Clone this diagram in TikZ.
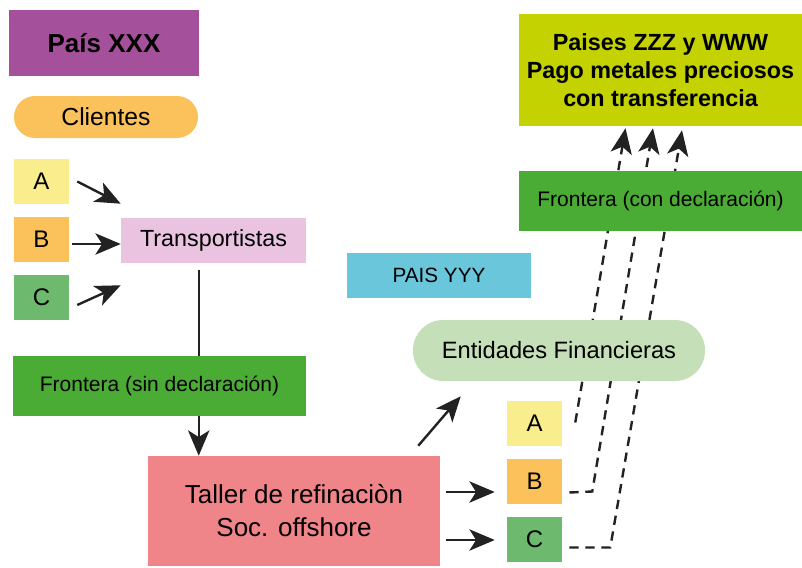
\documentclass[tikz,border=0pt]{standalone}
\usepackage{fontspec}
\setmainfont{Liberation Sans}
\usetikzlibrary{arrows.meta,calc,backgrounds}
\definecolor{paiscol}{RGB}{165,80,155}
\definecolor{orangecol}{RGB}{251,193,90}
\definecolor{yellowcol}{RGB}{249,237,142}
\definecolor{greencol}{RGB}{109,185,110}
\definecolor{pinkcol}{RGB}{233,195,223}
\definecolor{frontcol}{RGB}{74,171,53}
\definecolor{tallercol}{RGB}{239,133,137}
\definecolor{entidcol}{RGB}{197,224,184}
\definecolor{cyancol}{RGB}{106,198,218}
\definecolor{limecol}{RGB}{195,210,0}
\definecolor{linecol}{RGB}{34,34,34}
\begin{document}
\begin{tikzpicture}[x=0.75pt,y=-0.75pt,
  box/.style={inner sep=0pt,align=center,text=black},
  letter/.style={box,minimum width=41.25pt,minimum height=33.75pt,font=\fontsize{18}{21}\selectfont},
  frontera/.style={box,fill=frontcol,font=\fontsize{15.75}{18}\selectfont},
  con/.style={draw=linecol,line width=1.8pt},
  arr/.style={con,-{Stealth[length=19pt,width=16pt,inset=5pt]}},
  dsh/.style={arr,dash pattern=on 7pt off 5pt}]
\useasboundingbox (0,0) rectangle (802,567);

\node[box,fill=paiscol,minimum width=142.5pt,minimum height=49.5pt,font=\fontsize{19.5}{24}\selectfont\bfseries] (pais) at (104,43) {País XXX};
\node[box,fill=orangecol,rounded corners=15.75pt,minimum width=138pt,minimum height=31.5pt,font=\fontsize{18.5}{22}\selectfont] (clientes) at (106,117) {Clientes};
\node[letter,fill=yellowcol] (ca) at (41.5,181.5) {A};
\node[letter,fill=orangecol] (cb) at (41.5,239.5) {B};
\node[letter,fill=greencol] (cc) at (41.5,297.5) {C};
\node[box,fill=pinkcol,minimum width=138.75pt,minimum height=33.75pt,font=\fontsize{17.5}{21}\selectfont] (trans) at (213.5,240.5) {Transportistas};
\node[frontera,minimum width=219.75pt,minimum height=45pt] (fsin) at (159.5,386) {Frontera (sin declaración)};
\node[box,fill=tallercol,minimum width=219pt,minimum height=82.5pt,font=\fontsize{19.5}{24.75}\selectfont] (taller) at (294,511) {Taller de refinaciòn\\Soc. offshore};
\node[box,fill=cyancol,minimum width=138pt,minimum height=33.75pt,font=\fontsize{15.5}{18}\selectfont] (yyy) at (439,275.5) {PAIS YYY};
\node[box,fill=entidcol,rounded corners=22.5pt,minimum width=219pt,minimum height=45.75pt,font=\fontsize{17.75}{21}\selectfont] (entid) at (559,350.5) {Entidades Financieras};
\node[letter,fill=yellowcol] (ra) at (534.5,423.5) {A};
\node[letter,fill=orangecol] (rb) at (534.5,481.5) {B};
\node[letter,fill=greencol] (rc) at (534.5,539.5) {C};
\node[frontera,minimum width=212.25pt,minimum height=45pt] (fcon) at (660.5,201) {Frontera (con declaración)};
\node[box,fill=limecol,minimum width=212.25pt,minimum height=84pt,font=\fontsize{17.5}{21}\selectfont\bfseries] (zzz) at (660.5,70) {Paises ZZZ y WWW\\Pago metales preciosos\\con transferencia};

\begin{scope}[on background layer]
\draw[arr] ($(ca.east)+(8,0)$) -- ($(trans.north west)+(0,-14)$);
\draw[arr] ($(cb.east)+(3,4.5)$) -- ($(trans.west)+(0,3.5)$);
\draw[arr] ($(cc.east)+(8,7.5)$) -- ($(trans.south west)+(0,22)$);
\draw[con] ($(trans.south west)+(78,7)$) coordinate (t1) -- (t1 |- fsin.north);
\draw[arr] (t1 |- fsin.south) -- (t1 |- taller.north);
\draw[arr] ($(taller.north east)+(-22,-10)$) -- ($(entid.south west)+(48,15)$);
\draw[arr] ($(taller.east)+(6,-19)$) -- ($(rb.west)+(-12,10.5)$);
\draw[arr] ($(taller.east)+(6,29)$) -- ($(rc.west)+(-12,0.5)$);
\draw[dsh] ($(ra.east)+(13,-1)$) -- ($(zzz.south)+(-35,2)$);
\draw[dsh] ($(rb.east)+(7,11)$) -- ++(23,-1) -- ($(zzz.south)+(-7.5,2)$);
\draw[dsh] ($(rc.east)+(7,8)$) -- ++(41,0) -- ($(zzz.south)+(21.5,4)$);
\end{scope}
\end{tikzpicture}
\end{document}
